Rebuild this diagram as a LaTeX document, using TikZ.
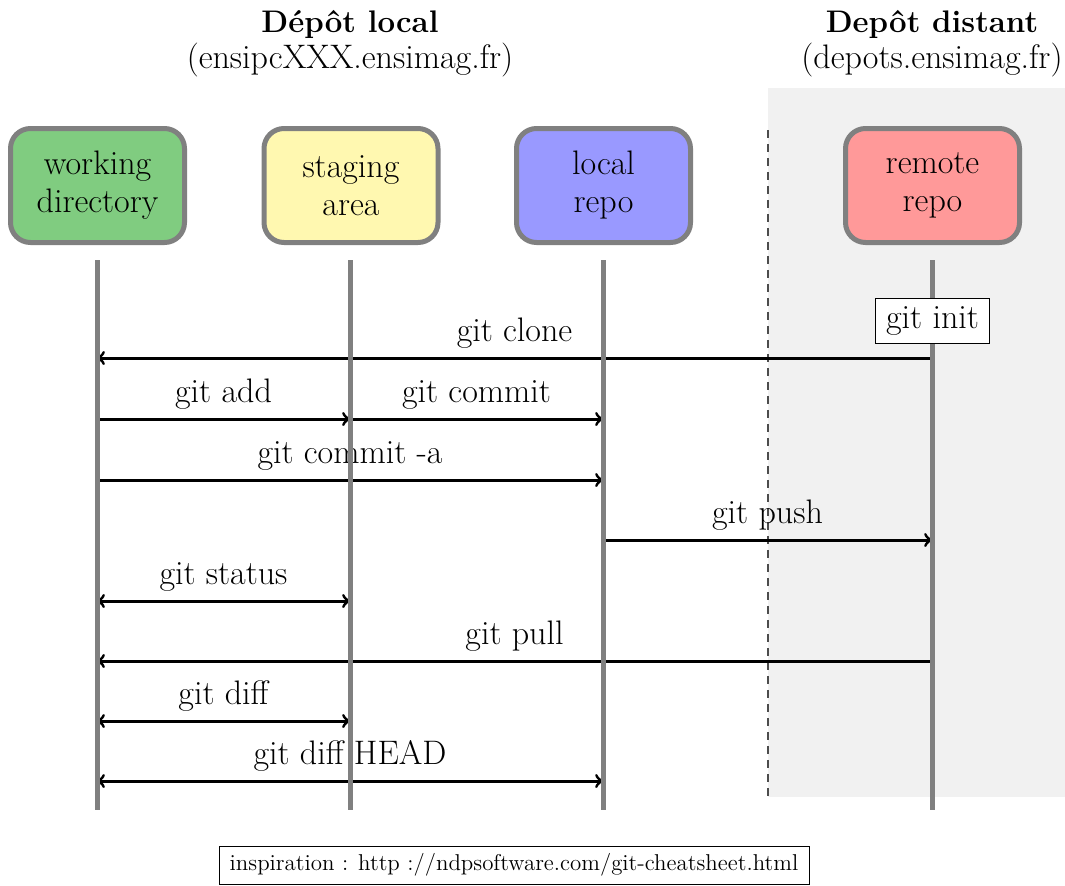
\documentclass[tikz,border=0pt]{standalone}
\usepackage{fontspec}
\setmainfont{Latin Modern Roman}
\usetikzlibrary{calc}
\definecolor{wdcol}{HTML}{80CC80}
\definecolor{sacol}{HTML}{FFF8B0}
\definecolor{lrcol}{HTML}{9999FF}
\definecolor{rrcol}{HTML}{FF9999}
\definecolor{bgcol}{HTML}{F1F1F1}
\definecolor{lanecol}{HTML}{808080}
\tikzset{
  mainfont/.style={font=\fontsize{17}{19}\selectfont},
  repobox/.style={draw=lanecol, line width=2.5pt, rounded corners=10pt, minimum width=87pt, minimum height=57pt, align=center, mainfont},
  lane/.style={draw=lanecol, line width=2.5pt},
  cmd/.style={draw=black, line width=1.5pt},
  cmdlabel/.style={mainfont, anchor=base, yshift=8.5pt, inner sep=0pt},
  title/.style={font=\bfseries\fontsize{15.6}{19}\selectfont, anchor=base, inner sep=0pt},
  subtitle/.style={mainfont, anchor=base, inner sep=0pt},
}
\begin{document}
\begin{tikzpicture}[x=0.5pt,y=-0.5pt]
\useasboundingbox (0,0) rectangle (1065,885);
% background of remote side
\fill[bgcol] (768,88) rectangle (1065,797);
\coordinate (dtop) at (768,130);
\coordinate (dbot) at (768,797);
\draw[black!70, line width=0.6pt, dash pattern=on 4pt off 3pt] (dtop) -- (dbot);

% titles
\node[title] (t1) at (350,32) {Dépôt local};
\node[subtitle] (t1b) at (350,68) {(ensipcXXX.ensimag.fr)};
\node[title] (t2) at (932,32) {Depôt distant};
\node[subtitle] (t2b) at (932,68) {(depots.ensimag.fr)};

% lane coordinates
\coordinate (wdt) at (97,260);  \coordinate (wdb) at (97,810);
\coordinate (sat) at (350,260); \coordinate (sab) at (350,810);
\coordinate (lrt) at (603,260); \coordinate (lrb) at (603,810);
\coordinate (rrt) at (932,260); \coordinate (rrb) at (932,810);

% rows
\coordinate (r1) at (0,358);
\coordinate (r2) at (0,419);
\coordinate (r3) at (0,480);
\coordinate (r4) at (0,540);
\coordinate (r5) at (0,601);
\coordinate (r6) at (0,661);
\coordinate (r7) at (0,721);
\coordinate (r8) at (0,781);

\draw[cmd,->] (rrt |- r1) -- node[cmdlabel] (l1) {git clone} (wdt |- r1);
\draw[cmd,->] (wdt |- r2) -- node[cmdlabel] (l2) {git add} (sat |- r2);
\draw[cmd,->] (sat |- r2) -- node[cmdlabel] (l3) {git commit} (lrt |- r2);
\draw[cmd,->] (wdt |- r3) -- node[cmdlabel] (l4) {git commit -a} (lrt |- r3);
\draw[cmd,->] (lrt |- r4) -- node[cmdlabel] (l5) {git push} (rrt |- r4);
\draw[cmd,<->] (wdt |- r5) -- node[cmdlabel] (l6) {git status} (sat |- r5);
\draw[cmd,->] (rrt |- r6) -- node[cmdlabel] (l7) {git pull} (wdt |- r6);
\draw[cmd,<->] (wdt |- r7) -- node[cmdlabel] (l8) {git diff} (sat |- r7);
\draw[cmd,<->] (wdt |- r8) -- node[cmdlabel] (l9) {git diff HEAD} (lrt |- r8);

% lanes
\draw[lane] (wdt) -- (wdb);
\draw[lane] (sat) -- (sab);
\draw[lane] (lrt) -- (lrb);
\draw[lane] (rrt) -- (rrb);

% boxes
\node[repobox, fill=wdcol] (wd) at (97.5,185.5) {working\\directory};
\node[repobox, fill=sacol] (sa) at (351,185.5) {staging\\area};
\node[repobox, fill=lrcol] (lr) at (603.5,185.5) {local\\repo};
\node[repobox, fill=rrcol] (rr) at (932.5,185.5) {remote\\repo};

\node[draw=black, line width=0.5pt, fill=white, mainfont, minimum width=57pt, minimum height=22.5pt, inner sep=2pt] (init) at (932.5,321) {git init};

\node[draw=black, line width=0.5pt, font=\fontsize{11.45}{13}\selectfont, minimum width=295pt, minimum height=19pt, inner sep=2pt] (foot) at (514,865) {inspiration : http ://ndpsoftware.com/git-cheatsheet.html};
\end{tikzpicture}
\end{document}
